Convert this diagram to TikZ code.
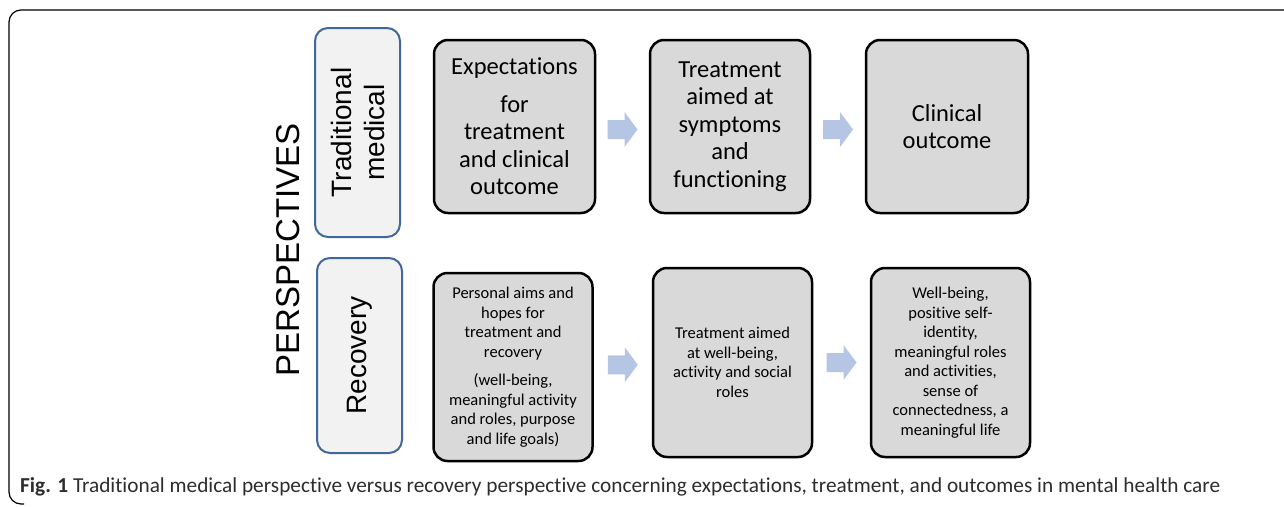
\documentclass[tikz,border=0pt]{standalone}
\usepackage{fontspec}
\setmainfont{Carlito}[Ligatures=NoCommon]
\newfontfamily\arialfont{Liberation Sans}
\usetikzlibrary{shapes,arrows,calc,fit}

\definecolor{boxgray}{RGB}{217,217,217}
\definecolor{labelfill}{RGB}{242,242,242}
\definecolor{labelblue}{RGB}{65,104,155}
\definecolor{arrowblue}{RGB}{180,198,228}
\definecolor{captiongray}{RGB}{45,45,45}

\begin{document}
\begin{tikzpicture}[x=1pt,y=-1pt,
	stepbox/.style={draw=black, line width=2.5pt, fill=boxgray, rounded corners=14pt,
		inner sep=0pt, align=center, text=black},
	bigtext/.style={font=\fontsize{24.5}{27.5}\selectfont},
	smalltext/.style={font=\fontsize{16.5}{19.5}\selectfont},
	viewbox/.style={draw=labelblue, line width=2pt, fill=labelfill, rounded corners=13pt,
		inner sep=0pt, minimum width=85pt, align=center,
		font=\arialfont\fontsize{28}{33}\selectfont},
	blockarrow/.pic={
		\fill[arrowblue] (-15,-9.5) -- (2,-9.5) -- (2,-17.5) -- (15,0) -- (2,17.5) -- (2,9.5) -- (-15,9.5) -- cycle;
	}]
	\useasboundingbox (0,0) rectangle (1284,506);
	% outer frame
	\draw[line width=1.2pt, rounded corners=12pt] (1300,10) -- (9,10) -- (9,504) -- (24,504);

	% perspectives
	\node[rotate=90, font=\arialfont\fontsize{33}{36}\selectfont] (persp) at (288,250) {PERSPECTIVES};
	\node[viewbox, minimum height=209pt] (trad) at (357.5,132.5) {};
	\node[rotate=90, font=\arialfont\fontsize{28}{33}\selectfont, align=center] at (trad.center) {Traditional\\medical};
	\node[viewbox, minimum height=195pt] (recov) at (359.5,355.5) {};
	\node[rotate=90, font=\arialfont\fontsize{28}{33}\selectfont] at (recov.center) {Recovery};

	% traditional medical row
	\node[stepbox, bigtext, minimum width=161pt, minimum height=173pt] (expect) at (514.5,126.5)
		{Expectations\\[10pt]for\\treatment\\and clinical\\outcome};
	\node[stepbox, bigtext, minimum width=160pt, minimum height=173pt] (treat) at (730,126.5)
		{Treatment\\aimed at\\symptoms\\and\\functioning};
	\node[stepbox, bigtext, minimum width=162pt, minimum height=173pt] (clinic) at (947,126.5)
		{Clinical\\outcome};

	% recovery row
	\node[stepbox, smalltext, minimum width=159pt, minimum height=188pt] (aims) at (513,367)
		{Personal aims and\\hopes for\\treatment and\\recovery\\[9pt](well-being,\\meaningful activity\\and roles, purpose\\and life goals)};
	\node[stepbox, smalltext, minimum width=159pt, minimum height=189pt] (wtreat) at (732.5,362.5)
		{Treatment aimed\\at well-being,\\activity and social\\roles};
	\node[stepbox, smalltext, minimum width=159pt, minimum height=189pt] (wellb) at (950.5,362.5)
		{Well-being,\\positive self-\\identity,\\meaningful roles\\and activities,\\sense of\\connectedness, a\\meaningful life};

	% block arrows
	\pic at ($(expect.east)!0.5!(treat.west)+(0,3)$) {blockarrow};
	\pic at ($(treat.east)!0.5!(clinic.west)+(0,3)$) {blockarrow};
	\pic at ($(aims.east)!0.5!(wtreat.west)$) {blockarrow};
	\pic at ($(wtreat.east)!0.5!(wellb.west)$) {blockarrow};

	% caption
	\node[anchor=west, inner sep=0pt, text=captiongray, font=\fontsize{21.3}{24}\selectfont] (caption) at (20,487)
		{\textbf{Fig. 1} Traditional medical perspective versus recovery perspective concerning expectations, treatment, and outcomes in mental health care};
\end{tikzpicture}
\end{document}
